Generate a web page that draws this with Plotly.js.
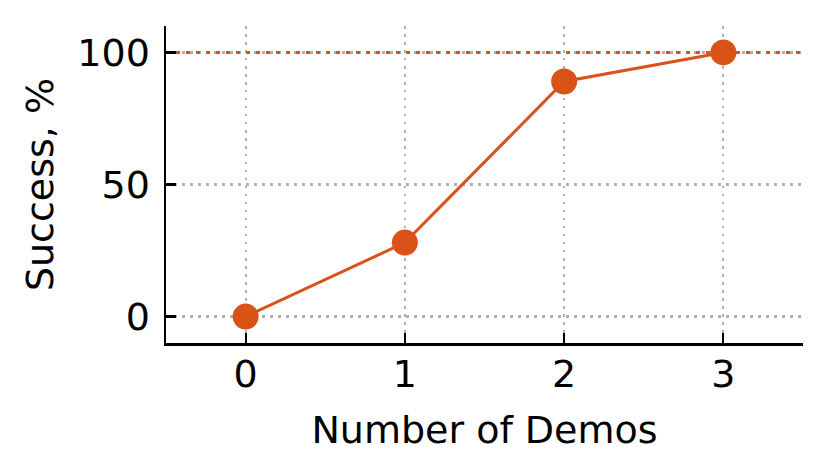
<!DOCTYPE html>
<html>
<head>
<meta charset="utf-8">
<script src="https://cdn.plot.ly/plotly-3.0.1.min.js"></script>
<style>html,body{margin:0;padding:0;background:#fff;}#chart{width:831px;height:474px;}</style>
</head>
<body>
<div id="chart"></div>
<script>
const demos = [0, 1, 2, 3];
const success = [0, 28, 89, 100];
const referenceLevel = 100;
const xRange = [-0.5, 3.5];
const yRange = [-10, 110];
const xTickVals = [0, 1, 2, 3];
const yTickVals = [0, 50, 100];

const orange = '#D95319';

const refTrace = {
  x: xRange,
  y: xRange.map(() => referenceLevel),
  type: 'scatter',
  mode: 'lines',
  line: {color: orange, width: 3, dash: '4px,6px'},
  hoverinfo: 'skip',
  showlegend: false
};

const trace = {
  x: demos,
  y: success,
  type: 'scatter',
  mode: 'lines+markers',
  line: {color: orange, width: 3},
  marker: {color: orange, size: 26},
  hoverinfo: 'skip',
  showlegend: false
};

const layout = {
  width: 831,
  height: 474,
  margin: {l: 166, r: 28, t: 26, b: 131, pad: 0},
  paper_bgcolor: '#fff',
  plot_bgcolor: '#fff',
  font: {family: 'DejaVu Sans, sans-serif', size: 38, color: '#000'},
  xaxis: {
    range: xRange,
    tickvals: xTickVals,
    ticktext: xTickVals.map(String),
    ticks: 'inside',
    ticklen: 10,
    tickwidth: 2.2,
    tickcolor: '#000',
    showline: true,
    linecolor: '#000',
    linewidth: 2.5,
    showgrid: true,
    gridcolor: '#b0b0b0',
    gridwidth: 2.2,
    griddash: '2.5px,5.5px',
    zeroline: false,
    ticklabelstandoff: -4,
    title: {text: 'Number of Demos', font: {size: 38}, standoff: 22},
    fixedrange: true
  },
  yaxis: {
    range: yRange,
    tickvals: yTickVals,
    ticktext: yTickVals.map(String),
    ticks: 'inside',
    ticklen: 10,
    tickwidth: 2.2,
    tickcolor: '#000',
    showline: true,
    linecolor: '#000',
    linewidth: 2.5,
    showgrid: true,
    gridcolor: '#b0b0b0',
    gridwidth: 2.2,
    griddash: '2.5px,5.5px',
    zeroline: false,
    ticklabelstandoff: 6,
    title: {text: 'Success, %', font: {size: 38}, standoff: 12},
    fixedrange: true
  }
};

Plotly.newPlot('chart', [refTrace, trace], layout, {staticPlot: true, displayModeBar: false});
</script>
</body>
</html>
